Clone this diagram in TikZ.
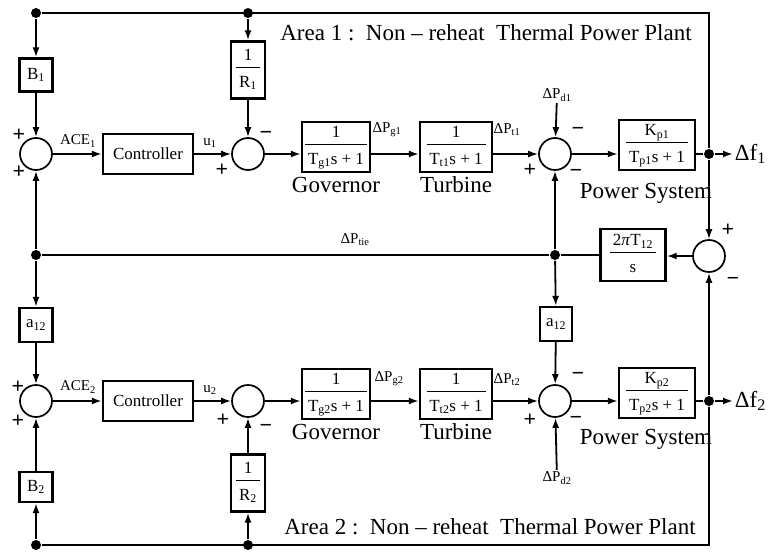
\documentclass[tikz,border=0pt]{standalone}
\usepackage{fontspec}
\setmainfont{Liberation Serif}
\usetikzlibrary{positioning,arrows.meta}
\newcommand\sub[1]{\textsubscript{#1}}
\newcommand\frc[2]{\begin{tabular}{@{\,}c@{\,}}#1\\[1pt]\hline\rule{0pt}{1.1em}#2\end{tabular}}
\setlength\arrayrulewidth{1.2pt}

\tikzset{
  blk/.style={draw, line width=2.4pt, inner sep=2pt, font=\fontsize{17}{19}\selectfont},
  sum/.style={draw, circle, line width=1.7pt, minimum size=32pt, inner sep=0pt},
  dot/.style={circle, fill, minimum size=10pt, inner sep=0pt},
  lbl/.style={font=\fontsize{15}{17}\selectfont, inner sep=1pt},
  sgn/.style={font=\fontsize{22}{22}\selectfont\bfseries, inner sep=0pt},
  blockname/.style={font=\fontsize{23}{26}\selectfont, inner sep=1pt},
}

\begin{document}
\begin{tikzpicture}[x=1pt, y=-1pt, line width=1.8pt, >={Latex[length=10pt,width=7pt]}]
\useasboundingbox (0,0) rectangle (773,551);

% corners and branch points
\node[dot] (tl) at (36,13) {};
\node[dot] (rt) at (248,13) {};
\coordinate (tr) at (709,13);
\node[dot] (bl) at (36,545) {};
\node[dot] (rb) at (248,545) {};
\coordinate (br) at (709,545);
\node[dot] (lt) at (36,255) {};
\node[dot] (dt) at (555,255) {};

% area 1
\node[blk, minimum width=33pt, minimum height=33pt] (B1) at (36,75) {B\sub{1}};
\node[sum] (sA1) at (36,154) {};
\node[blk, minimum width=90pt, minimum height=40pt] (c1) at (148,154) {Controller};
\node[blk, minimum width=34pt, minimum height=57pt] (R1) at (248,70) {\frc{1}{R\sub{1}}};
\node[sum] (sU1) at (248,154) {};
\node[blk, minimum width=68pt, minimum height=45pt] (g1) at (336,147) {\frc{1}{T\sub{g1}s + 1}};
\node[blk, minimum width=72pt, minimum height=45pt] (t1) at (456,147) {\frc{1}{T\sub{t1}s + 1}};
\node[sum] (sD1) at (555,154) {};
\node[lbl] (Pd1) at (557,95) {ΔP\sub{d1}};
\node[blk, minimum width=76pt, minimum height=45pt] (p1) at (657,145) {\frc{K\sub{p1}}{T\sub{p1}s + 1}};
\node[dot] (f1dot) at (709,154) {};
\node[blockname, anchor=west] (f1) at (733,154) {Δf\sub{1}};

\node[blockname, below=2pt of g1] (gov1) {Governor};
\node[blockname, below=2pt of t1] (tur1) {Turbine};
\node[blockname, below=10pt of p1, xshift=-11pt] (pow1) {Power System};
\node[blockname] (area1) at (486,33) {Area 1 :\ \ Non – reheat\ \ Thermal Power Plant};

\node[lbl] (ace1) at (78,141) {ACE\sub{1}};
\node[lbl] (u1) at (210,143) {u\sub{1}};
\node[lbl] (Pg1) at (387,130) {ΔP\sub{g1}};
\node[lbl] (Pt1) at (507,130) {ΔP\sub{t1}};

\node[sgn] (pA1a) at (19,135) {+};
\node[sgn] (pA1b) at (19,172) {+};
\node[sgn] (pU1a) at (222,170) {+};
\node[sgn] (mU1a) at (266,135) {−};
\node[sgn] (mD1a) at (578,131) {−};
\node[sgn] (pD1a) at (530,170) {+};
\node[sgn] (mD1b) at (576,173) {−};

% tie line
\node[sum] (sT) at (709,256) {};
\node[blk, minimum width=65pt, minimum height=52pt] (tie) at (633,255) {\frc{2\textit{π}T\sub{12}}{s}};
\node[lbl] (Ptie) at (355,240) {ΔP\sub{tie}};
\node[sgn] (pT) at (728,230) {+};
\node[sgn] (mT) at (733,281) {−};
\node[blk, minimum width=33pt, minimum height=34pt] (aL) at (36,325) {a\sub{12}};
\node[blk, minimum width=32pt, minimum height=34pt] (aR) at (556,324) {a\sub{12}};

% area 2
\node[sum] (sA2) at (36,401) {};
\node[blk, minimum width=33pt, minimum height=30pt] (B2) at (36,487) {B\sub{2}};
\node[blk, minimum width=90pt, minimum height=40pt] (c2) at (148,401) {Controller};
\node[sum] (sU2) at (248,401) {};
\node[blk, minimum width=34pt, minimum height=57pt] (R2) at (248,483) {\frc{1}{R\sub{2}}};
\node[blk, minimum width=68pt, minimum height=45pt] (g2) at (336,394) {\frc{1}{T\sub{g2}s + 1}};
\node[blk, minimum width=72pt, minimum height=45pt] (t2) at (456,394) {\frc{1}{T\sub{t2}s + 1}};
\node[sum] (sD2) at (555,401) {};
\node[lbl] (Pd2) at (557,478) {ΔP\sub{d2}};
\node[blk, minimum width=76pt, minimum height=45pt] (p2) at (657,393) {\frc{K\sub{p2}}{T\sub{p2}s + 1}};
\node[dot] (f2dot) at (709,401) {};
\node[blockname, anchor=west] (f2) at (733,401) {Δf\sub{2}};

\node[blockname, below=2pt of g2] (gov2) {Governor};
\node[blockname, below=2pt of t2] (tur2) {Turbine};
\node[blockname, below=8pt of p2, xshift=-11pt] (pow2) {Power System};
\node[blockname] (area2) at (490,527) {Area 2 :\ \ Non – reheat\ \ Thermal Power Plant};

\node[lbl] (ace2) at (78,387) {ACE\sub{2}};
\node[lbl] (u2) at (210,390) {u\sub{2}};
\node[lbl] (Pg2) at (389,379) {ΔP\sub{g2}};
\node[lbl] (Pt2) at (507,380) {ΔP\sub{t2}};

\node[sgn] (pA2a) at (18,387) {+};
\node[sgn] (pA2b) at (18,421) {+};
\node[sgn] (pU2a) at (223,420) {+};
\node[sgn] (mU2a) at (266,428) {−};
\node[sgn] (mD2a) at (578,376) {−};
\node[sgn] (pD2a) at (530,420) {+};
\node[sgn] (mD2b) at (576,420) {−};

% connectors, area 1
\draw (f1dot) -- (tr) -- (tl);
\draw[->] (tl) -- (B1);
\draw[->] (B1) -- (sA1);
\draw[->] (rt) -- (R1);
\draw[->] (R1) -- (sU1);
\draw[->] (sA1) -- (c1);
\draw[->] (c1) -- (sU1);
\draw[->] (sU1) -- (sU1 -| g1.west);
\draw[->] (g1.east |- sU1) -- (t1.west |- sU1);
\draw[->] (t1.east |- sD1) -- (sD1);
\draw[->] (Pd1) -- (sD1);
\draw[->] (sD1) -- (sD1 -| p1.west);
\draw (p1.east |- f1dot) -- (f1dot);
\draw[->] (f1dot) -- (f1);

% connectors, tie line
\draw[->] (f1dot) -- (sT);
\draw[->] (f2dot) -- (sT);
\draw[->] (sT) -- (sT -| tie.east);
\draw (tie) -- (dt) -- (lt);
\draw[->] (lt) -- (sA1);
\draw[->] (lt) -- (aL);
\draw[->] (aL) -- (sA2);
\draw[->] (dt) -- (sD1);
\draw[->] (dt) -- (aR);
\draw[->] (aR) -- (sD2);

% connectors, area 2
\draw (f2dot) -- (br) -- (bl);
\draw[->] (bl) -- (B2);
\draw[->] (B2) -- (sA2);
\draw[->] (rb) -- (R2);
\draw[->] (R2) -- (sU2);
\draw[->] (sA2) -- (c2);
\draw[->] (c2) -- (sU2);
\draw[->] (sU2) -- (sU2 -| g2.west);
\draw[->] (g2.east |- sU2) -- (t2.west |- sU2);
\draw[->] (t2.east |- sD2) -- (sD2);
\draw[->] (Pd2) -- (sD2);
\draw[->] (sD2) -- (sD2 -| p2.west);
\draw (p2.east |- f2dot) -- (f2dot);
\draw[->] (f2dot) -- (f2);
\end{tikzpicture}
\end{document}
